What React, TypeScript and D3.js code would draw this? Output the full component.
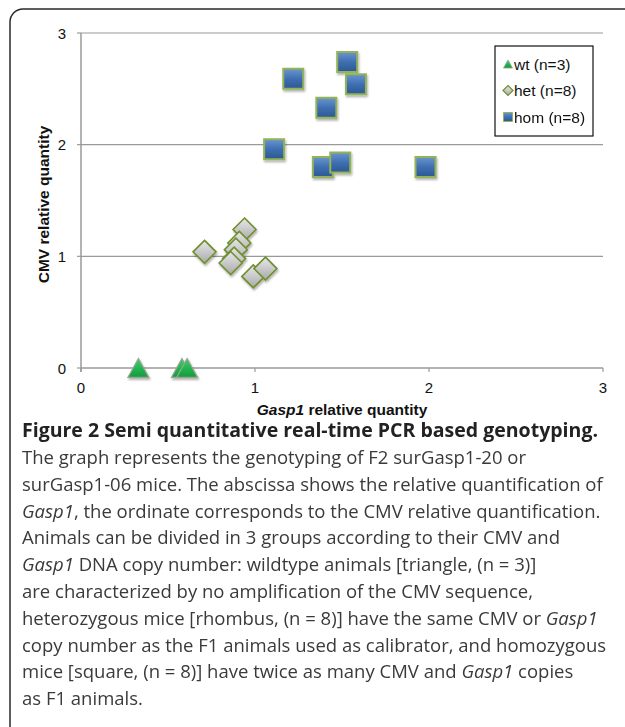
import React from "react";
import * as d3 from "d3";

const wtX = [0.33, 0.58, 0.61];
const wtY = [0, 0, 0];
const hetX = [0.71, 0.94, 0.91, 0.89, 0.88, 0.86, 0.99, 1.06];
const hetY = [1.04, 1.24, 1.12, 1.06, 0.98, 0.94, 0.82, 0.89];
const homX = [1.53, 1.22, 1.58, 1.41, 1.11, 1.39, 1.49, 1.98];
const homY = [2.74, 2.59, 2.54, 2.33, 1.96, 1.8, 1.84, 1.8];
const xTicks = [0, 1, 2, 3];
const yTicks = [0, 1, 2, 3];
const legendLabels = ["wt (n=3)", "het (n=8)", "hom (n=8)"];

const captionTitle = "Semi quantitative real-time PCR based genotyping.";
const captionLines: { t: string; i: boolean }[][] = [
  [{ t: "The graph represents the genotyping of F2 surGasp1-20 or", i: false }],
  [{ t: "surGasp1-06 mice. The abscissa shows the relative quantification of", i: false }],
  [{ t: "Gasp1", i: true }, { t: ", the ordinate corresponds to the CMV relative quantification.", i: false }],
  [{ t: "Animals can be divided in 3 groups according to their CMV and", i: false }],
  [{ t: "Gasp1", i: true }, { t: " DNA copy number: wildtype animals [triangle, (n = 3)]", i: false }],
  [{ t: "are characterized by no amplification of the CMV sequence,", i: false }],
  [{ t: "heterozygous mice [rhombus, (n = 8)] have the same CMV or ", i: false }, { t: "Gasp1", i: true }],
  [{ t: "copy number as the F1 animals used as calibrator, and homozygous", i: false }],
  [{ t: "mice [square, (n = 8)] have twice as many CMV and ", i: false }, { t: "Gasp1", i: true }, { t: " copies", i: false }],
  [{ t: "as F1 animals.", i: false }],
];

const W = 625;
const H = 727;
const x = d3.scaleLinear().domain([0, 3]).range([81, 603]);
const y = d3.scaleLinear().domain([0, 3]).range([368, 33]);

const triPath = (s: number) => {
  const h = s * 0.9;
  return `M0,${-h / 2}L${s / 2},${h / 2}L${-s / 2},${h / 2}Z`;
};
const diaPath = (s: number) => `M0,${-s / 2}L${s / 2},0L0,${s / 2}L${-s / 2},0Z`;
const sqPath = (s: number) => `M${-s / 2},${-s / 2}h${s}v${s}h${-s}Z`;

const Tri = ({ s }: { s: number }) => (
  <path d={triPath(s)} fill="url(#gTri)" stroke="#9aa58f" strokeWidth={1.2} />
);
const Dia = ({ s }: { s: number }) => (
  <path d={diaPath(s)} fill="url(#gDia)" stroke="#6f8f2e" strokeWidth={1.6} />
);
const Sq = ({ s }: { s: number }) => (
  <path d={sqPath(s)} fill="url(#gSq)" stroke="#93b356" strokeWidth={2} />
);

export default function App() {
  const axisColor = "#9a9a9a";
  const font = "Liberation Sans, Arial, sans-serif";
  const capFont = "'Open Sans', 'Noto Sans', sans-serif";
  return (
    <svg width={W} height={H} style={{ position: "absolute", left: 0, top: 0 }}>
      <defs>
        <linearGradient id="gSq" x1="0" y1="0" x2="0" y2="1">
          <stop offset="0" stopColor="#6b95d1" />
          <stop offset="0.5" stopColor="#3f6fb0" />
          <stop offset="1" stopColor="#2c5894" />
        </linearGradient>
        <linearGradient id="gDia" x1="0" y1="0" x2="0" y2="1">
          <stop offset="0" stopColor="#e8e8e8" />
          <stop offset="0.5" stopColor="#c9c9c9" />
          <stop offset="1" stopColor="#a9a9a9" />
        </linearGradient>
        <linearGradient id="gTri" x1="0" y1="0" x2="0" y2="1">
          <stop offset="0" stopColor="#3ccf6a" />
          <stop offset="1" stopColor="#0f9b3c" />
        </linearGradient>
        <filter id="shadow" x="-30%" y="-30%" width="160%" height="160%">
          <feDropShadow dx="1" dy="2" stdDeviation="1.2" floodColor="#000" floodOpacity="0.3" />
        </filter>
      </defs>
      <rect x={0} y={0} width={W} height={H} fill="#fff" />
      {/* frame */}
      <rect x={10} y={9} width={660} height={760} rx={13} ry={13} fill="none" stroke="#2a2a2a" strokeWidth={1.5} />

      {/* grid lines */}
      {yTicks.filter((t) => t > 0).map((t) => (
        <line key={"g" + t} x1={x(0)} x2={x(3)} y1={y(t)} y2={y(t)} stroke={axisColor} strokeWidth={1.2} />
      ))}
      {/* axes */}
      <line x1={x(0)} x2={x(0)} y1={y(3)} y2={y(0) + 4} stroke={axisColor} strokeWidth={1.5} />
      <line x1={x(0)} x2={x(3)} y1={y(0)} y2={y(0)} stroke={axisColor} strokeWidth={1.5} />
      {yTicks.map((t) => (
        <g key={"yt" + t}>
          <line x1={x(0) - 4} x2={x(0)} y1={y(t)} y2={y(t)} stroke={axisColor} strokeWidth={1.2} />
          <text x={x(0) - 15} y={y(t) + 5.5} fontFamily={font} fontSize={15} textAnchor="end" fill="#111">
            {t}
          </text>
        </g>
      ))}
      {xTicks.map((t) => (
        <g key={"xt" + t}>
          <line x1={x(t)} x2={x(t)} y1={y(0)} y2={y(0) + 4} stroke={axisColor} strokeWidth={1.2} />
          <text x={x(t)} y={y(0) + 25} fontFamily={font} fontSize={15} textAnchor="middle" fill="#111">
            {t}
          </text>
        </g>
      ))}
      <text x={(x(0) + x(3)) / 2} y={414.5} fontFamily={font} fontSize={15.5} fontWeight="bold" textAnchor="middle" fill="#111">
        <tspan fontStyle="italic">Gasp1</tspan> relative quantity
      </text>
      <text
        transform={`translate(48.5,${(y(0) + y(3)) / 2 + 4}) rotate(-90)`}
        fontFamily={font}
        fontSize={15.5}
        fontWeight="bold"
        textAnchor="middle"
        fill="#111"
      >
        CMV relative quantity
      </text>

      {/* points */}
      <g filter="url(#shadow)">
        {wtX.map((v, i) => (
          <g key={"w" + i} transform={`translate(${x(v)},${y(wtY[i])})`}>
            <Tri s={21} />
          </g>
        ))}
        {hetX.map((v, i) => (
          <g key={"h" + i} transform={`translate(${x(v)},${y(hetY[i])})`}>
            <Dia s={23} />
          </g>
        ))}
        {homX.map((v, i) => (
          <g key={"o" + i} transform={`translate(${x(v)},${y(homY[i])})`}>
            <Sq s={20} />
          </g>
        ))}
      </g>

      {/* legend */}
      <rect x={495} y={46} width={98} height={90} fill="#fff" stroke="#111" strokeWidth={1.2} />
      {legendLabels.map((l, i) => {
        const ly = 64 + i * 26.5;
        return (
          <g key={"l" + i}>
            <g transform={`translate(508,${ly})`}>
              {i === 0 && <path d={triPath(9)} fill="url(#gTri)" stroke="#9aa58f" strokeWidth={0.8} />}
              {i === 1 && <path d={diaPath(10)} fill="url(#gDia)" stroke="#6f8f2e" strokeWidth={1.2} />}
              {i === 2 && <path d={sqPath(9)} fill="url(#gSq)" stroke="#93b356" strokeWidth={1} />}
            </g>
            <text x={514} y={ly + 5.5} fontFamily={font} fontSize={15.5} fill="#111">
              {l}
            </text>
          </g>
        );
      })}

      {/* caption */}
      <text x={22} y={437} fontFamily={capFont} fontSize={19.5} fontWeight="bold" fill="#222" textLength={576} lengthAdjust="spacingAndGlyphs">
        Figure 2 {captionTitle}
      </text>
      {captionLines.map((line, i) => (
        <text key={"c" + i} x={22} y={464 + i * 26.8} fontFamily={capFont} fontSize={18.5} fill="#3a3a3a">
          {line.map((seg, j) => (
            <tspan key={j} fontStyle={seg.i ? "italic" : "normal"}>
              {seg.t}
            </tspan>
          ))}
        </text>
      ))}
    </svg>
  );
}
